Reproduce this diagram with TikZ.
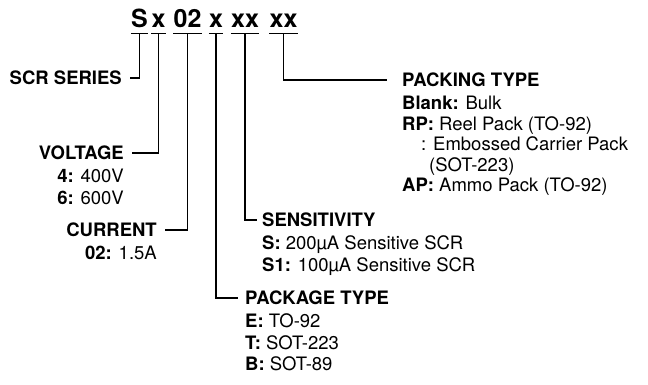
\documentclass[tikz,border=0pt]{standalone}
\usepackage{fontspec}
\setmainfont{TeX Gyre Heros}
\usetikzlibrary{positioning}
\tikzset{
  part/.style={font=\fontsize{25}{25}\selectfont\bfseries,inner xsep=0pt,inner ysep=5pt,
    text height=18pt,text depth=0pt,anchor=base},
  head/.style={font=\fontsize{18.5}{21}\selectfont\bfseries,inner sep=0pt,
    text height=13.3pt,text depth=0pt},
  items/.style={font=\fontsize{18.5}{21.5}\selectfont,inner sep=0pt},
  lead/.style={line width=1.3pt}
}
\begin{document}
\begin{tikzpicture}[x=1pt,y=-1pt]
\useasboundingbox (0,0) rectangle (648,385);
% part number
\node[part] (t1) at (139.5,28) {S};
\node[part] (t2) at (158.5,28) {x};
\node[part] (t3) at (187.5,28) {02};
\node[part] (t4) at (216,28) {x};
\node[part] (t5) at (245,28) {xx};
\node[part] (t6) at (283.5,28) {xx};
\foreach \n in {1,...,6}
  \draw[lead] (t\n.south west) -- (t\n.south east);
% headings
\node[head,anchor=east] (scr) at (122,78) {SCR SERIES};
\node[head,anchor=east] (volt) at (124,153) {VOLTAGE};
\node[head,anchor=east] (cur) at (157,230) {CURRENT};
\node[head,anchor=west] (pkg) at (245,298) {PACKAGE TYPE};
\node[head,anchor=west] (sens) at (262,220) {SENSITIVITY};
\node[head,anchor=west] (pack) at (402,80) {PACKING TYPE};
% lists
\node[items,align=right,below=9pt of volt.south east,anchor=north east] (voltl)
  {\textbf{4:} 400V\\ \textbf{6:} 600V};
\node[items,align=right,below=9pt of cur.south east,anchor=north east] (curl)
  {\textbf{02:} 1.5A};
\node[items,align=left,below=9pt of pkg.south west,anchor=north west] (pkgl)
  {\textbf{E:} TO-92\\ \textbf{T:} SOT-223\\ \textbf{B:} SOT-89};
\node[items,align=left,below=9pt of sens.south west,anchor=north west] (sensl)
  {\textbf{S:} 200µA Sensitive SCR\\ \textbf{S1:} 100µA Sensitive SCR};
\node[items,align=left,below=9pt of pack.south west,anchor=north west,
  font=\fontsize{18.5}{20.5}\selectfont] (packl)
  {\textbf{Blank:} Bulk\\ \textbf{RP:} Reel Pack (TO-92)\\
   \hspace*{19pt}: Embossed Carrier Pack\\ \hspace*{27pt}(SOT-223)\\
   \textbf{AP:} Ammo Pack (TO-92)};
% leaders
\draw[lead] (t1.south) |- ([xshift=8pt]scr.east);
\draw[lead] (t2.south) |- ([xshift=8pt]volt.east);
\draw[lead] (t3.south) |- ([xshift=8pt]cur.east);
\draw[lead] (t4.south) |- ([xshift=-7pt]pkg.west);
\draw[lead] (t5.south) |- ([xshift=-5pt]sens.west);
\draw[lead] (t6.south) |- ([xshift=-15pt]pack.west);
\end{tikzpicture}
\end{document}
